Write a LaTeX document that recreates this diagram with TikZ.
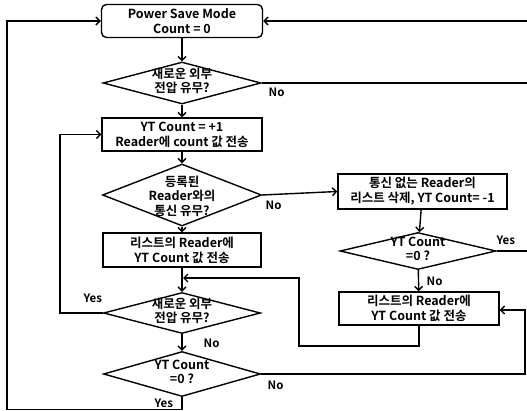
\documentclass[tikz,border=0pt]{standalone}
\usepackage{fontspec}
\setmainfont{Noto Sans CJK KR}[BoldFont={Noto Sans CJK KR Bold}]
\usetikzlibrary{arrows.meta,shapes.geometric}
\begin{document}
\begin{tikzpicture}[x=1pt,y=-1pt,
  line width=1.4pt,
  >={Straight Barb[length=4pt,width=8pt]},
  txt/.style={font=\bfseries\fontsize{12.5}{14.5}\selectfont, align=center, inner sep=0pt},
  box/.style={draw, rectangle, inner sep=1pt, font=\bfseries\fontsize{12.5}{15}\selectfont, align=center},
  dia/.style={draw, diamond, inner sep=0pt},
  lab/.style={font=\bfseries\fontsize{11.5}{12}\selectfont, inner sep=0pt}]
\useasboundingbox (0,0) rectangle (527,411);
% boxes
\node[box, rounded corners=5pt, minimum width=161, minimum height=33] (b1) at (182,21) {Power Save Mode\\Count = 0};
\node[box, minimum width=160, minimum height=33] (b2) at (182,134.5) {YT Count = +1\\Reader에 count 값 전송};
\node[box, minimum width=158, minimum height=34] (b5) at (182,250) {리스트의 Reader에\\YT Count 값 전송};
\node[box, minimum width=169, minimum height=35] (b3) at (422.5,191.5) {통신 없는 Reader의\\리스트 삭제, YT Count= -1};
\node[box, minimum width=160, minimum height=33] (b4) at (419,308.5) {리스트의 Reader에\\YT Count 값 전송};
% diamonds
\node[dia, minimum width=158, minimum height=42] (d1) at (182,83) {};
\node[txt] (d1t) at (182,81) {새로운 외부\\전압 유무?};
\node[dia, minimum width=159, minimum height=62] (d2) at (182,195) {};
\node[txt] (d2t) at (182,196) {등록된\\Reader와의\\통신 유무?};
\node[dia, minimum width=156, minimum height=37] (d3) at (418,251) {};
\node[txt] (d3t) at (418,249) {YT Count\\=0 ?};
\node[dia, minimum width=157, minimum height=41] (d4) at (182,313) {};
\node[txt] (d4t) at (182,311) {새로운 외부\\전압 유무?};
\node[dia, minimum width=157, minimum height=45] (d5) at (182,374) {};
\node[txt] (d5t) at (182,372) {YT Count\\=0 ?};
% free ends
\coordinate (r1) at (527,21);
\coordinate (r2) at (527,83);
\coordinate (r3) at (527,251);
\coordinate (m1) at (182,278);
% connectors
\draw[->] (b1) -- (d1);
\draw[->] (d1) -- (b2);
\draw[->] (b2) -- (d2);
\draw[->] (d2) -- (b5);
\draw[->] (b5) -- (d4);
\draw[->] (d4) -- (d5);
\draw[->] (r1) -- (b1.east);
\draw (d1.east) -- (r2);
\draw[->] (d2.east) -- (b3.west);
\draw[->] (b3) -- (d3);
\draw (d3.east) -- (r3);
\draw[->] (d3) -- (b4);
\draw[->] (b4.south) -- (419,346) -- (299,346) -- (299,278) -- ([xshift=1pt]m1);
\draw[->] (d4.west) -- (60,313) -- (60,134.5) -- (b2.west);
\draw[->] (d5.east) -- (525,374) -- (525,310) -- (b4.east |- 0,310);
\draw[->] (d5.south) -- (182,409.5) -- (7,409.5) -- (7,21) -- (b1.west);
% labels
\node[lab, anchor=west] (l1) at (268,92) {No};
\node[lab, anchor=west] (l2) at (265,205) {No};
\node[lab, anchor=west] (l3) at (496,240) {Yes};
\node[lab, anchor=west] (l4) at (426,281) {No};
\node[lab, anchor=west] (l5) at (83,298) {Yes};
\node[lab, anchor=west] (l6) at (203,343) {No};
\node[lab, anchor=west] (l7) at (267,385) {No};
\node[lab, anchor=west] (l8) at (154,403) {Yes};
\end{tikzpicture}
\end{document}
